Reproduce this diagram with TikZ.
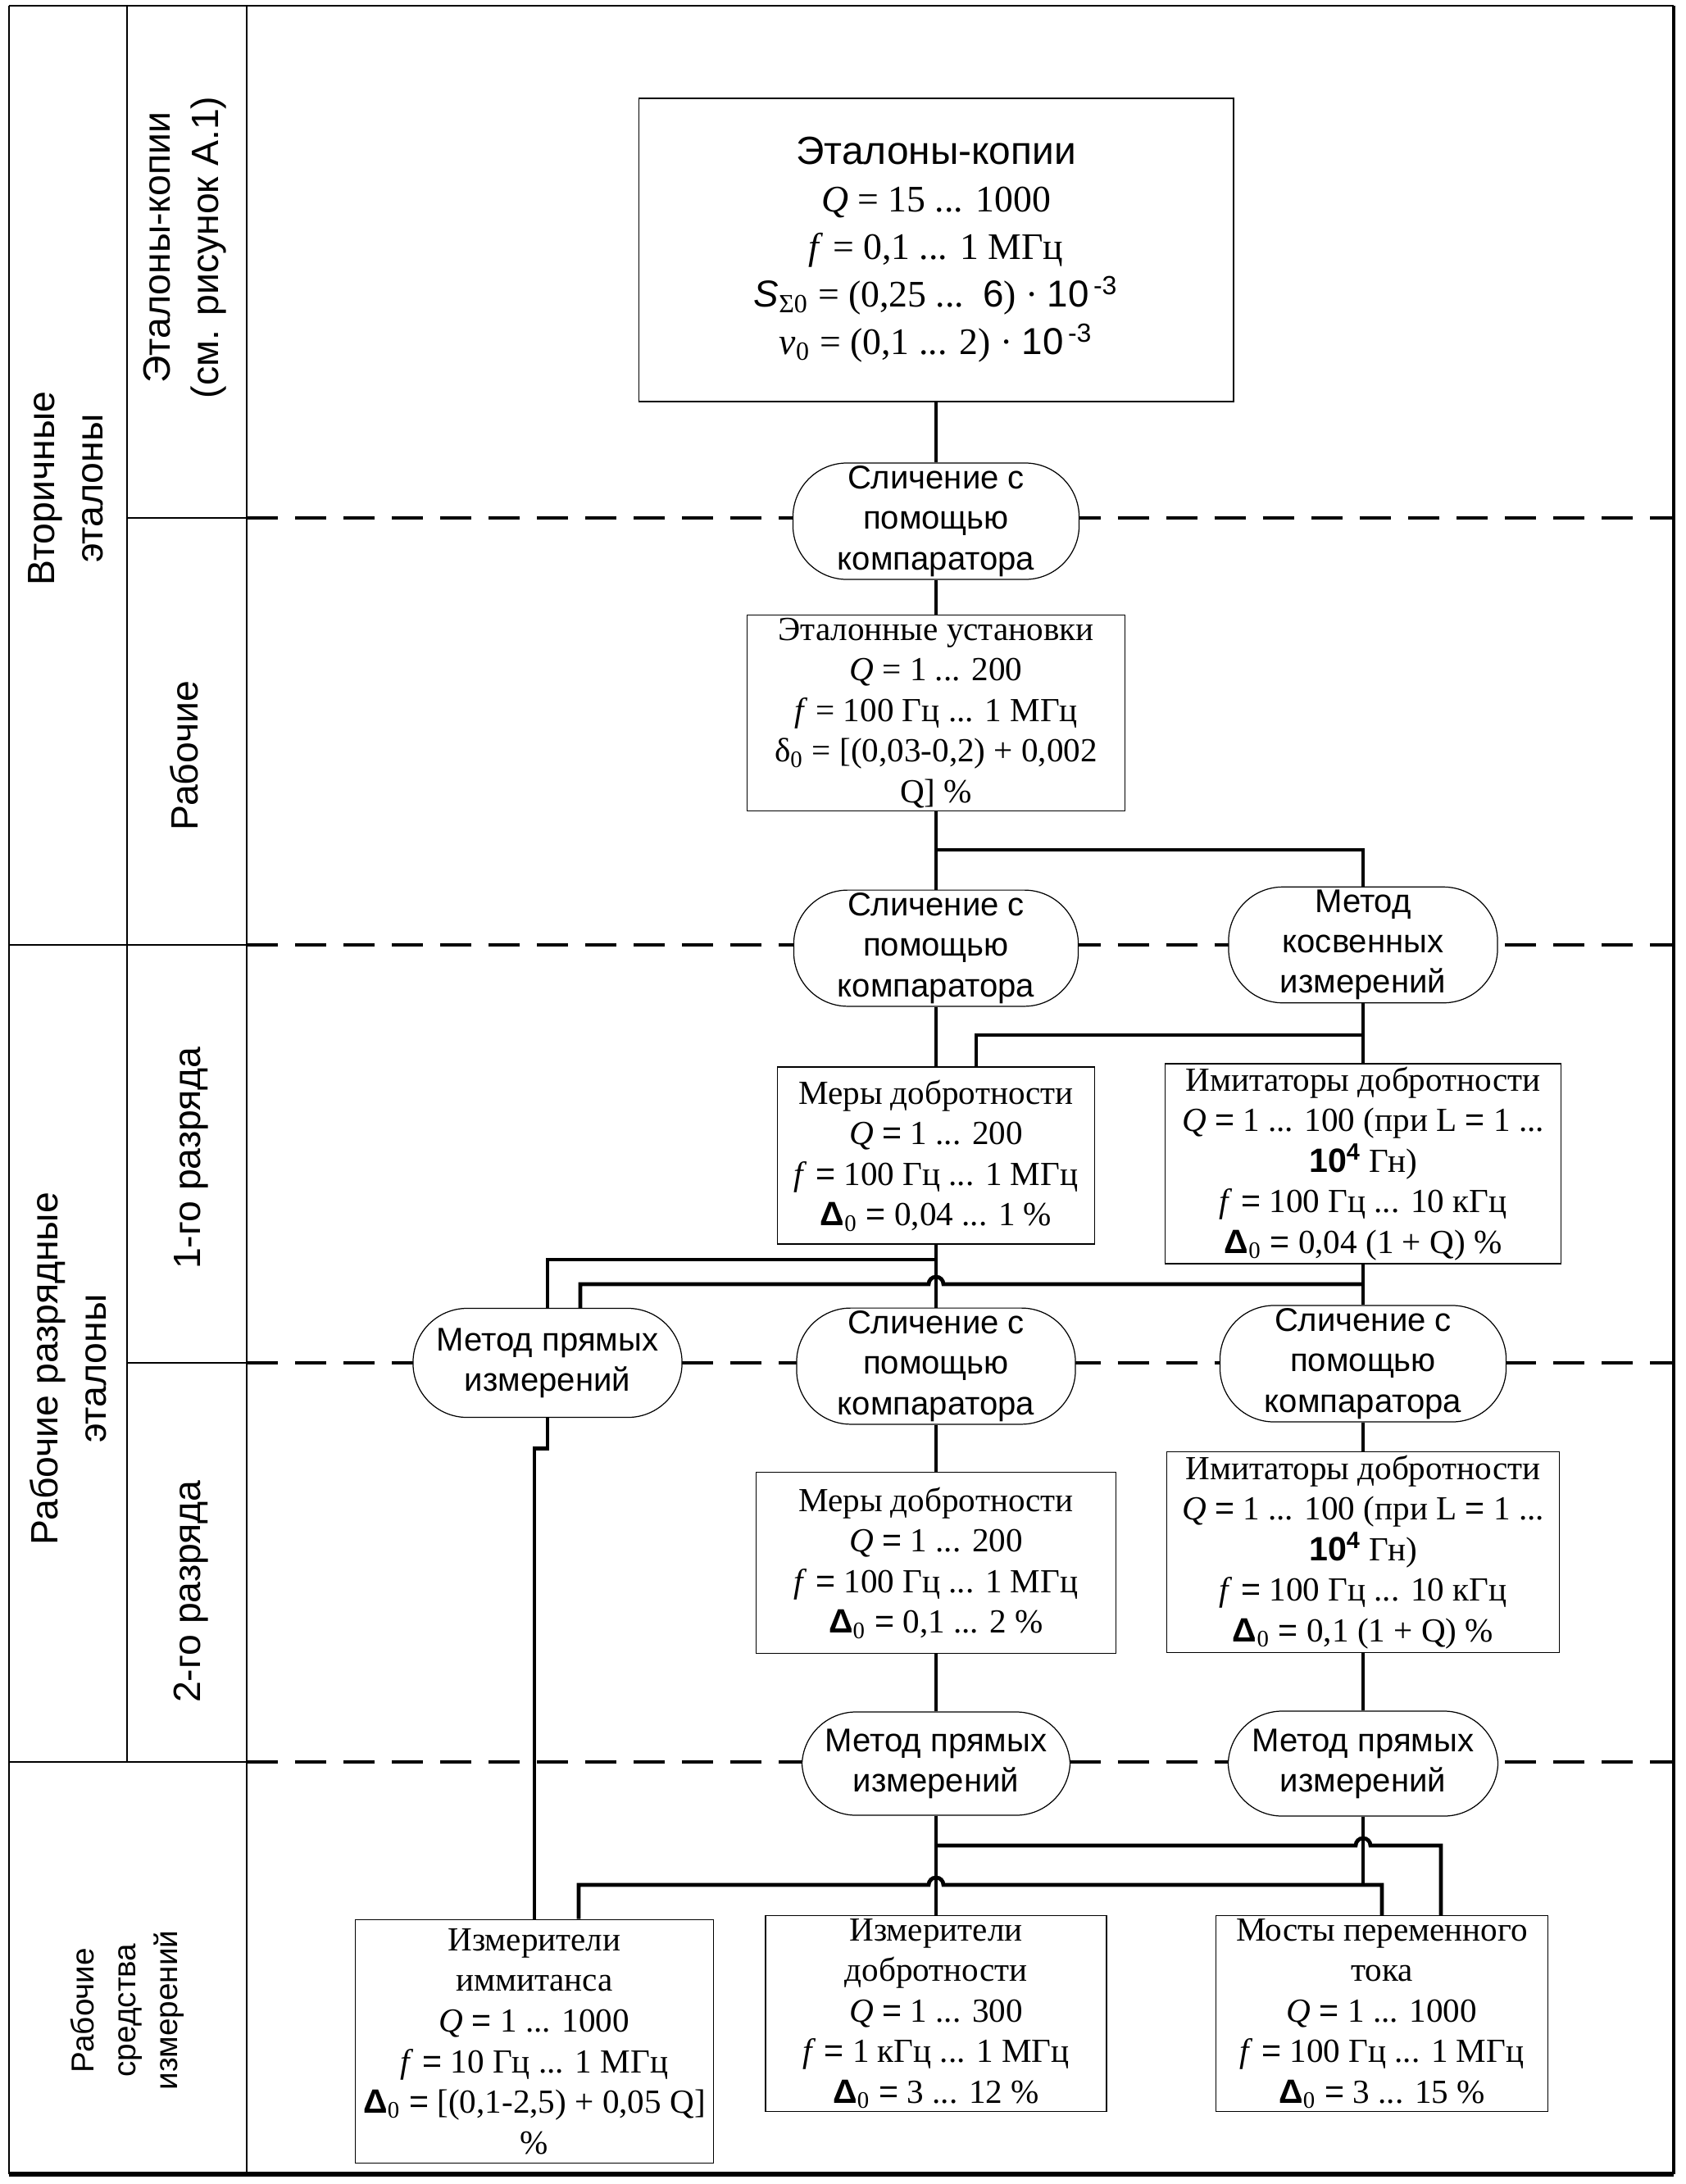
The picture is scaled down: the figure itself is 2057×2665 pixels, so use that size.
\documentclass[tikz,border=0pt]{standalone}
\usepackage{fontspec}
\setmainfont{Liberation Serif}
\setsansfont{Liberation Sans}
\newcommand{\sfeq}{{\sffamily =}}
\newcommand{\dzero}{{\sffamily\bfseries Δ}\textsubscript{0}}
\newcommand{\tenpow}[1]{{\sffamily 10\textsuperscript{\,#1}}}

\begin{document}
\begin{tikzpicture}[
        x=0.01cm, y=-0.01cm,
        block/.style={draw, line width=0.45pt, fill=white, align=center, inner sep=1pt, font=\fontsize{11.7}{14.1}\selectfont},
        method/.style={draw, line width=0.35pt, fill=white, align=center, inner sep=1pt, rounded corners=0.66cm, font=\sffamily\fontsize{11.4}{14}\selectfont},
        lbl/.style={rotate=90, align=center, font=\sffamily\fontsize{13.2}{16.8}\selectfont},
        conn/.style={line width=1.35pt},
        lane/.style={line width=1.1pt, dash pattern=on 3.8mm off 2.1mm},
        cell/.style={line width=0.6pt}
    ]
    \useasboundingbox (0,0) rectangle (2057,2665);

    % outer frame and the label columns
    \draw[line width=0.4pt] (11,7) -- (2042,7);
    \draw[line width=0.7pt] (11,7) -- (11,2653);
    \draw[line width=1.2pt] (2042,7) -- (2042,2653);
    \draw[line width=1.5pt] (11,2653) -- (2042,2653);
    \draw[cell] (155,7) -- (155,2150);
    \draw[cell] (301,7) -- (301,2653);
    \draw[cell] (155,632) -- (301,632);
    \draw[cell] (155,1663) -- (301,1663);
    \draw[cell] (11,1153) -- (301,1153);
    \draw[cell] (11,2150) -- (301,2150);

    \foreach \y in {632,1153,1663,2150}
        \draw[lane] (301,\y) -- (2042,\y);

    \node[lbl] (vtor) at (80,596) {Вторичные\\эталоны};
    \node[lbl] (kop) at (226,302) {Эталоны-копии\\(см. рисунок А.1)};
    \node[lbl] (rab) at (225,922) {Рабочие};
    \node[lbl] (razr) at (83,1670) {Рабочие разрядные\\эталоны};
    \node[lbl] (r1) at (233,1413) {1-го разряда};
    \node[lbl] (r2) at (233,1942) {2-го разряда};
    \node[lbl, font=\sffamily\fontsize{11}{14.5}\selectfont] (sredstva) at (155,2453) {Рабочие\\средства\\измерений};

    % secondary standards
    \node[block, minimum width=7.25cm, minimum height=3.7cm, font=\fontsize{13}{16.5}\selectfont] (kopii) at (1142,305)
        {{\sffamily\fontsize{13.6}{16.5}\selectfont Эталоны-копии}\\
         \textit{Q} = 15 ... 1000\\
         \textit{f} = 0,1 ... 1 МГц\\
         {\sffamily\itshape S}\textsubscript{Σ0} = (0,25 ...\ \ {\sffamily 6}) · \tenpow{-3}\\
         \textit{v}\textsubscript{0} = (0,1 ... 2) · \tenpow{-3}};
    \node[method, minimum width=3.49cm, minimum height=1.42cm] (cmp1) at (1142,636) {Сличение с\\помощью\\компаратора};
    \node[block, minimum width=4.61cm, minimum height=2.36cm] (ustanovki) at (1142,870)
        {Эталонные установки\\
         \textit{Q} = 1 ... 200\\
         \textit{f} = 100 Гц ... 1 МГц\\
         δ\textsubscript{0} = [(0,03-0,2) + 0,002\\
         Q] \%};

    % 1st grade
    \node[method, minimum width=3.47cm, minimum height=1.40cm] (cmp2) at (1142,1157) {Сличение с\\помощью\\компаратора};
    \node[method, minimum width=3.28cm, minimum height=1.32cm] (kosv) at (1663,1153) {Метод\\косвенных\\измерений};
    \node[block, minimum width=3.87cm, minimum height=2.16cm] (mery1) at (1142,1410)
        {Меры добротности\\
         \textit{Q} \sfeq{} 1 ... 200\\
         \textit{f} \sfeq{} 100 Гц ... 1 МГц\\
         \dzero{} \sfeq{} 0,04 ... 1 \%};
    \node[block, minimum width=4.83cm, minimum height=2.36cm] (imit1) at (1663,1420)
        {Имитаторы добротности\\
         \textit{Q} \sfeq{} 1 ... 100 (при L \sfeq{} 1 ...\\
         {\sffamily\bfseries 10\textsuperscript{4}} Гн)\\
         \textit{f} \sfeq{} 100 Гц ... 10 кГц\\
         \dzero{} \sfeq{} 0,04 (1 + Q) \%};

    % 2nd grade
    \node[method, minimum width=3.28cm, minimum height=1.33cm] (pryam1) at (668,1663) {Метод прямых\\измерений};
    \node[method, minimum width=3.40cm, minimum height=1.41cm] (cmp3) at (1142,1667) {Сличение с\\помощью\\компаратора};
    \node[method, minimum width=3.49cm, minimum height=1.42cm] (cmp4) at (1663,1664) {Сличение с\\помощью\\компаратора};
    \node[block, minimum width=4.39cm, minimum height=2.21cm] (mery2) at (1142,1907)
        {Меры добротности\\
         \textit{Q} \sfeq{} 1 ... 200\\
         \textit{f} \sfeq{} 100 Гц ... 1 МГц\\
         \dzero{} \sfeq{} 0,1 ... 2 \%};
    \node[block, minimum width=4.79cm, minimum height=2.45cm] (imit2) at (1663,1894)
        {Имитаторы добротности\\
         \textit{Q} \sfeq{} 1 ... 100 (при L \sfeq{} 1 ...\\
         {\sffamily\bfseries 10\textsuperscript{4}} Гн)\\
         \textit{f} \sfeq{} 100 Гц ... 10 кГц\\
         \dzero{} \sfeq{} 0,1 (1 + Q) \%};

    % working instruments
    \node[method, minimum width=3.27cm, minimum height=1.26cm] (pryam2) at (1142,2152) {Метод прямых\\измерений};
    \node[method, minimum width=3.29cm, minimum height=1.28cm] (pryam3) at (1663,2152) {Метод прямых\\измерений};
    \node[block, minimum width=4.37cm, minimum height=2.97cm] (izm1) at (652,2491)
        {Измерители\\иммитанса\\
         \textit{Q} \sfeq{} 1 ... 1000\\
         \textit{f} \sfeq{} 10 Гц ... 1 МГц\\
         \dzero{} \sfeq{} [(0,1-2,5) + 0,05 Q]\\
         \%};
    \node[block, minimum width=4.16cm, minimum height=2.37cm] (izm2) at (1142,2457)
        {Измерители\\добротности\\
         \textit{Q} \sfeq{} 1 ... 300\\
         \textit{f} \sfeq{} 1 кГц ... 1 МГц\\
         \dzero{} \sfeq{} 3 ... 12 \%};
    \node[block, minimum width=4.05cm, minimum height=2.37cm] (mosty) at (1686,2457)
        {Мосты переменного\\тока\\
         \textit{Q} \sfeq{} 1 ... 1000\\
         \textit{f} \sfeq{} 100 Гц ... 1 МГц\\
         \dzero{} \sfeq{} 3 ... 15 \%};

    % connections
    \coordinate (split1) at (1142,1037);
    \coordinate (split2) at (1663,1263);
    \coordinate (split3) at (1142,1537);
    \coordinate (split4) at (1663,1567);
    \coordinate (split5) at (1142,2252);
    \coordinate (split6) at (1663,2300);

    \draw[conn] (kopii) -- (cmp1);
    \draw[conn] (cmp1) -- (ustanovki);
    \draw[conn] (ustanovki) -- (cmp2);
    \draw[conn] (split1) -| (kosv.north);
    \draw[conn] (cmp2) -- (mery1);
    \draw[conn] (kosv) -- (imit1);
    \draw[conn] (split2) -| ([xshift=0.49cm]mery1.north);

    \draw[conn] (mery1) -- (cmp3);
    \draw[conn] (imit1) -- (cmp4);
    \draw[conn] (split3) -| (pryam1.north);
    \draw[conn] (split4) -- ++(-512,0) arc[start angle=0, end angle=-180, radius=9] -| ([xshift=0.4cm]pryam1.north);
    \draw[conn] (pryam1.south) -- ++(0,37) -| (izm1.north);
    \draw[conn] (cmp3) -- (mery2);
    \draw[conn] (cmp4) -- (imit2);

    \draw[conn] (mery2) -- (pryam2);
    \draw[conn] (imit2) -- (pryam3);
    \draw[conn] (pryam2) -- (izm2);
    \draw[conn] (pryam3) -- (split6);
    \draw[conn] (split5) -- (1654,2252) arc[start angle=180, end angle=360, radius=9] -| ([xshift=0.72cm]mosty.north);
    \draw[conn] (mosty.north) |- (1151,2300) arc[start angle=0, end angle=-180, radius=9] -| ([xshift=0.54cm]izm1.north);
\end{tikzpicture}
\end{document}
